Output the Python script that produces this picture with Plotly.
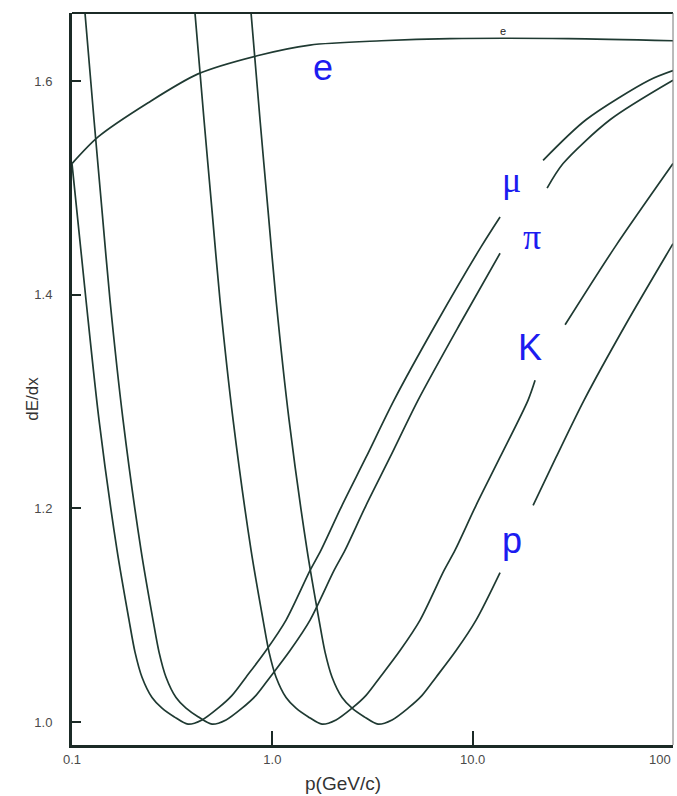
import math
import plotly.graph_objects as go

# ---------------- data ----------------
# momentum p (GeV/c) and relative dE/dx (minimum ~ 1.0); None marks a break in the drawn line
p_e    = [0.1, 0.135, 0.240, 0.426, 0.84, 1.54, 3.5, 7.7, 30, 100]
dedx_e = [1.523, 1.548, 1.580, 1.607, 1.624, 1.634, 1.638, 1.640, 1.640, 1.638]

p_mu    = [0.100, 0.1175, 0.1364, 0.1678, 0.1926, 0.2063, 0.2236, 0.2509, 0.2814, 0.3231,
           0.3794, 0.4457, 0.5357, 0.6293, 0.7391, 0.9301, 1.171, 1.543, 1.750, 2.229,
           2.937, 4.052, 6.566, 11.01, 13.70, None, 22.47, 36.8, 76.0, 100]
dedx_mu = [1.523, 1.395, 1.283, 1.161, 1.0955, 1.0655, 1.042, 1.023, 1.013, 1.005,
           0.998, 1.002, 1.013, 1.025, 1.042, 1.067, 1.0955, 1.142, 1.161, 1.203,
           1.248, 1.3015, 1.373, 1.445, 1.473, None, 1.526, 1.564, 1.601, 1.610]

p_pi    = [0.1161, 0.1288, 0.1412, 0.1548, 0.1798, 0.2211, 0.2538, 0.2719, 0.2947, 0.3306,
           0.3708, 0.4257, 0.5000, 0.5873, 0.7059, 0.8292, 0.9740, 1.226, 1.543, 2.033,
           2.307, 2.937, 3.870, 5.340, 8.652, 13.70, None, 23.53, 28.27, 48.5, 100]
dedx_pi = [1.664, 1.564, 1.479, 1.395, 1.283, 1.161, 1.0955, 1.0655, 1.042, 1.023,
           1.013, 1.005, 0.998, 1.002, 1.013, 1.025, 1.042, 1.067, 1.0955, 1.142,
           1.161, 1.203, 1.248, 1.3015, 1.373, 1.439, None, 1.500, 1.523, 1.564, 1.601]

p_K    = [0.411, 0.456, 0.500, 0.548, 0.637, 0.783, 0.899, 0.963, 1.044, 1.171,
          1.313, 1.508, 1.771, 2.080, 2.500, 2.936, 3.449, 4.340, 5.463, 7.198,
          8.168, 10.40, 13.70, 18.91, 20.49, None, 28.93, 51.39, 100]
dedx_K = [1.664, 1.564, 1.479, 1.395, 1.283, 1.161, 1.0955, 1.0655, 1.042, 1.023,
          1.013, 1.005, 0.998, 1.002, 1.013, 1.025, 1.042, 1.067, 1.0955, 1.142,
          1.161, 1.203, 1.248, 1.3015, 1.320, None, 1.372, 1.445, 1.523]

p_p    = [0.783, 0.868, 0.952, 1.044, 1.212, 1.491, 1.711, 1.833, 1.987, 2.229,
          2.500, 2.871, 3.371, 3.960, 4.759, 5.591, 6.567, 8.264, 10.40, 13.70,
          None, 20.03, 26.09, 36.0, 58.34, 97.85, 100]
dedx_p = [1.664, 1.564, 1.479, 1.395, 1.283, 1.161, 1.0955, 1.0655, 1.042, 1.023,
          1.013, 1.005, 0.998, 1.002, 1.013, 1.025, 1.042, 1.067, 1.0955, 1.140,
          None, 1.203, 1.248, 1.3015, 1.373, 1.445, 1.448]

# curve labels
label_text = ["e", "\u03bc", "\u03c0", "K", "p"]
label_p    = [1.79, 15.7, 19.8, 19.4, 15.7]
label_dedx = [1.613, 1.5075, 1.454, 1.351, 1.170]

x_tickvals = [0.1, 1, 10, 100]
x_ticktext = ["0.1", "1.0", "10.0", "100"]
y_tickvals = [1.0, 1.2, 1.4, 1.6]
y_ticktext = ["1.0", "1.2", "1.4", "1.6"]

# ---------------- figure ----------------
LINE = "#1f3a32"
AXIS = "#1b2a26"
BLUE = "#1c1cf0"
TICKFONT = dict(family="Liberation Sans", size=13, color="#4a4a4a")

fig = go.Figure()
for xs, ys in [(p_e, dedx_e), (p_mu, dedx_mu), (p_pi, dedx_pi), (p_K, dedx_K), (p_p, dedx_p)]:
    fig.add_trace(go.Scatter(x=xs, y=ys, mode="lines",
                             line=dict(color=LINE, width=1.7, shape="spline", smoothing=0.8),
                             connectgaps=False, showlegend=False, hoverinfo="skip"))

for t, xv, yv in zip(label_text, label_p, label_dedx):
    serif = t in ("\u03bc", "\u03c0")
    fig.add_annotation(x=math.log10(xv), y=yv, xref="x", yref="y", text=t, showarrow=False,
                       font=dict(family="Liberation Serif" if serif else "Liberation Sans",
                                 size=36, color=BLUE),
                       xanchor="center", yanchor="middle")

# small 'e' above the electron plateau
fig.add_annotation(x=math.log10(14.2), y=1.647, xref="x", yref="y", text="e", showarrow=False,
                   font=dict(family="Liberation Sans", size=11, color="#222"),
                   xanchor="center", yanchor="middle")

# last x tick label, kept inside the picture at the right edge
fig.add_annotation(x=1.0, y=-0.0195, xref="paper", yref="paper", text=x_ticktext[-1],
                   showarrow=False, font=TICKFONT, xanchor="right", yanchor="middle")

# axis titles
fig.add_annotation(x=-0.065, y=0.473, xref="paper", yref="paper", text="dE/dx", showarrow=False,
                   textangle=-90, font=dict(family="Liberation Sans", size=17, color="#333"),
                   xanchor="center", yanchor="middle")
fig.add_annotation(x=0.451, y=-0.053, xref="paper", yref="paper", text="p(GeV/c)", showarrow=False,
                   font=dict(family="Liberation Sans", size=19, color="#333"),
                   xanchor="center", yanchor="middle")

# top and right frame lines
fig.add_shape(type="line", xref="paper", yref="paper", x0=0, x1=1, y0=1, y1=1,
              line=dict(color=AXIS, width=2))
fig.add_shape(type="line", xref="paper", yref="paper", x0=1, x1=1, y0=0, y1=1,
              line=dict(color="#777777", width=1))

fig.update_xaxes(type="log", range=[-1, 2], tickvals=x_tickvals,
                 ticktext=x_ticktext[:-1] + [""],
                 ticks="inside", ticklen=14, tickwidth=2, tickcolor=AXIS, automargin=False,
                 showline=True, linewidth=3, linecolor=AXIS, showgrid=False, zeroline=False,
                 tickfont=TICKFONT)
fig.update_yaxes(range=[0.9785, 1.664], tickvals=y_tickvals, ticktext=y_ticktext,
                 ticks="inside", ticklen=9, tickwidth=2, tickcolor=AXIS, automargin=False,
                 showline=True, linewidth=3, linecolor=AXIS, showgrid=False, zeroline=False,
                 ticklabelstandoff=14, tickfont=TICKFONT)

fig.update_layout(width=677, height=796,
                  margin=dict(l=72, r=4, t=13, b=51, autoexpand=False),
                  plot_bgcolor="white", paper_bgcolor="white", showlegend=False)

fig.write_html("out.html", config={"displayModeBar": False},
               post_script="document.body.style.margin='0';")
